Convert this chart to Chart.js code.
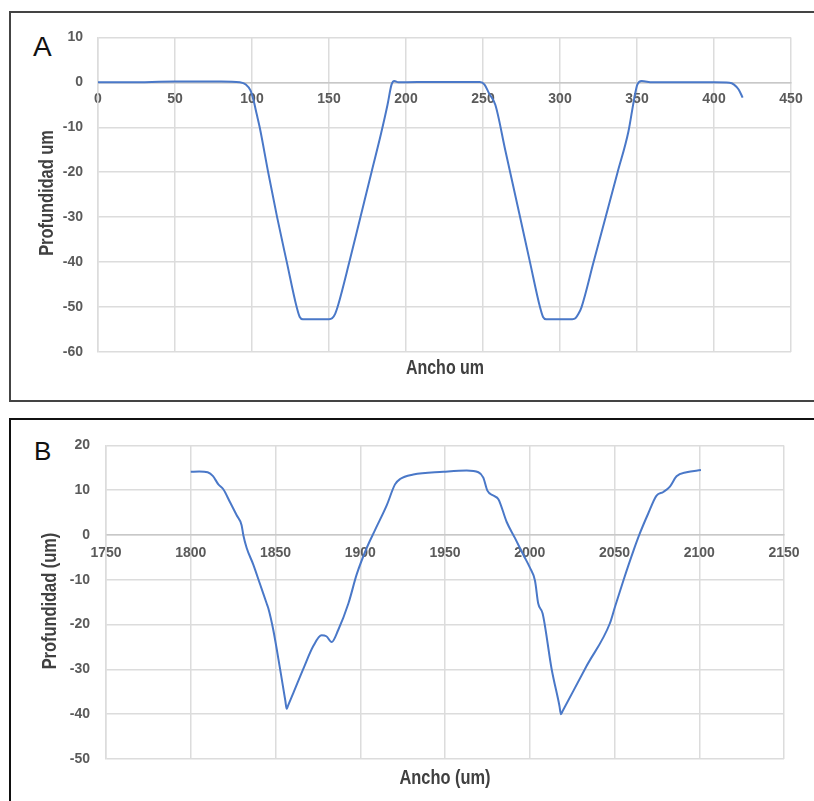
<!DOCTYPE html>
<html>
<head>
<meta charset="utf-8">
<script src="https://cdn.jsdelivr.net/npm/chart.js@4.4.1/dist/chart.umd.min.js"></script>
<style>
    body { margin: 0; background: #fff; width: 814px; height: 801px; overflow: hidden; position: relative; }
    .panel { position: absolute; box-sizing: border-box; border: 2px solid #444; }
    .box { position: absolute; }
    .letter { position: absolute; font-family: 'Liberation Sans', Arial, sans-serif; color: #111; }
    .atitle { position: absolute; white-space: nowrap; font-family: 'Liberation Sans', Arial, sans-serif;
              font-weight: bold; color: #404040; line-height: 1; }
</style>
</head>
<body>
<div class="panel" style="left:9px; top:11px; width:815px; height:391px;"></div>
<div class="panel" style="left:9px; top:418px; width:815px; height:400px; border-color:#111;"></div>
<div class="letter" style="left:33px; top:33px; font-size:28px; line-height:28px;">A</div>
<div class="letter" style="left:34px; top:438px; font-size:26px; line-height:26px;">B</div>
<div class="box" style="left:12px; top:14px; width:800px; height:386px;"><canvas id="chartA"></canvas></div>
<div class="box" style="left:12px; top:421px; width:800px; height:380px;"><canvas id="chartB"></canvas></div>
<div class="atitle" id="xtA" style="left:444.5px; top:368px; font-size:19.5px; transform:translate(-50%,-50%) scaleX(0.82);"></div>
<div class="atitle" id="ytA" style="left:45.5px; top:192.5px; font-size:20px; transform:translate(-50%,-50%) rotate(-90deg) scaleX(0.82);"></div>
<div class="atitle" id="xtB" style="left:445px; top:776.5px; font-size:20px; transform:translate(-50%,-50%) scaleX(0.82);"></div>
<div class="atitle" id="ytB" style="left:48.5px; top:600.5px; font-size:20px; transform:translate(-50%,-50%) rotate(-90deg) scaleX(0.82);"></div>
<script>
// profile A
var anchoA = [0, 20, 50, 80, 92, 96, 99, 101, 103, 105, 110.5, 116.3, 122.6, 129, 131, 133,
    150, 152, 154, 156, 163.2, 170.4, 177.6, 183.8, 188, 190.6, 192.4, 195, 220, 248,
    251, 254, 258, 264.4, 274.1, 280.5, 287, 289, 291, 308, 310, 312, 314, 321.8, 329.6,
    337.4, 344.4, 348, 350.2, 353, 360, 380, 400, 410, 413, 416, 418.6];
var profA = [0, 0, 0.2, 0.2, 0, -0.5, -1.8, -4, -7, -10, -20, -30, -40, -50, -52.2, -52.7,
    -52.7, -52.5, -51.5, -49.5, -40, -30, -20, -11.4, -5, -0.5, 0.3, 0, 0.1, 0.1,
    -0.5, -2.5, -5, -15, -30, -40, -50, -52.2, -52.7, -52.7, -52.5, -51.5, -50, -40, -30,
    -20, -11, -4, -0.5, 0.3, 0, 0, 0, -0.1, -0.5, -1.6, -3.4];

// profile B
var anchoB = [1800, 1805, 1810, 1813, 1816.3, 1819.2, 1823.2, 1827.1, 1830, 1831, 1833, 1836.9,
    1840.9, 1844.8, 1845.8, 1848.7, 1852.7, 1855.8, 1856.6, 1857.4, 1860.5, 1866.4, 1872.3, 1877.2, 1880,
    1883.1, 1887, 1893, 1897.9, 1903.8, 1908.7, 1915.6, 1920.5, 1923.5, 1931.3, 1949,
    1962.8, 1969.7, 1972.6, 1975, 1978.5, 1981.5, 1986.4, 1991.3, 1996.2, 2000.1, 2003.1,
    2005, 2007.6, 2012.9, 2017.5, 2018.4, 2019.4, 2033.6, 2047.3, 2050.3, 2055.2, 2061.1, 2065, 2069.9,
    2074.8, 2078.8, 2082.7, 2086.6, 2092.5, 2101];
var profB = [14.1, 14.2, 14.0, 13.2, 11.3, 10.2, 7.3, 4.4, 2.2, 0, -2.9, -6.6,
    -11, -15.3, -16.4, -21.2, -29.9, -37.0, -38.8, -38.1, -35.3, -29.9, -24.8, -22.4, -22.6,
    -23.9, -21.2, -15.3, -8.8, -2.9, 1.1, 6.6, 11.3, 12.5, 13.5, 14.1,
    14.4, 14.0, 12.8, 9.9, 8.8, 8.0, 2.9, -0.7, -4.4, -7.3, -10.2,
    -15.3, -17.5, -29.9, -38.1, -40, -39.3, -29.2, -19.7, -16.0, -10.2, -3.6, 0.4, 4.8,
    8.8, 9.6, 10.8, 13.1, 14.0, 14.5];

// axis ranges [min, max, step] and titles
var xTicksA = [0, 450, 50];
var yTicksA = [-60, 10, 10];
var xTicksB = [1750, 2150, 50];
var yTicksB = [-50, 20, 10];
var xTitleA = 'Ancho um';
var yTitleA = 'Profundidad um';
var xTitleB = 'Ancho (um)';
var yTitleB = 'Profundidad (um)';

document.getElementById('xtA').textContent = xTitleA;
document.getElementById('ytA').textContent = yTitleA;
document.getElementById('xtB').textContent = xTitleB;
document.getElementById('ytB').textContent = yTitleB;

var lineColor = '#4a78c8';
var gridColor = '#dcdcdc';
var tickColor = '#5a5a5a';
var tickFont = { family: "'Liberation Sans', Arial, sans-serif", size: 14, weight: 'bold' };

function points(xs, ys) {
    var pts = [];
    for (var i = 0; i < xs.length; i++) {
        pts.push({ x: xs[i], y: ys[i] });
    }
    return pts;
}

function plain(v) {
    return String(v);
}

function makeChart(id, xs, ys, xt, yt, s) {
    var ctx = document.getElementById(id).getContext('2d');
    return new Chart(ctx, {
        type: 'scatter',
        data: {
            datasets: [{
                data: points(xs, ys),
                showLine: true,
                borderColor: lineColor,
                borderWidth: 2,
                pointRadius: 0,
                cubicInterpolationMode: 'monotone'
            }]
        },
        options: {
            responsive: true,
            maintainAspectRatio: false,
            animation: false,
            layout: { padding: { top: s.top, right: s.right, left: 0, bottom: s.bottom } },
            plugins: { legend: { display: false }, tooltip: { enabled: false } },
            scales: {
                x: {
                    type: 'linear',
                    position: { y: 0 },
                    min: xt[0], max: xt[1],
                    ticks: { stepSize: xt[2], color: tickColor, font: tickFont, padding: s.xPad, maxRotation: 0, callback: plain },
                    grid: { color: gridColor, lineWidth: 1.5, drawTicks: false },
                    border: { color: '#c8c8c8', width: 1.5 }
                },
                y: {
                    type: 'linear',
                    min: yt[0], max: yt[1],
                    ticks: { stepSize: yt[2], color: tickColor, font: tickFont, padding: s.yPad, callback: plain },
                    grid: { color: gridColor, lineWidth: 1.5, drawTicks: false },
                    border: { color: gridColor, width: 1.5 },
                    afterFit: function (scale) { scale.width = s.leftW; }
                }
            }
        }
    });
}

var chartA = makeChart('chartA', anchoA, profA, xTicksA, yTicksA,
    { top: 18.5, right: 21, bottom: 48, leftW: 86, xPad: 8, yPad: 15 });

var chartB = makeChart('chartB', anchoB, profB, xTicksB, yTicksB,
    { top: 18.3, right: 28, bottom: 42, leftW: 94, xPad: 9.5, yPad: 16 });
</script>
</body>
</html>
